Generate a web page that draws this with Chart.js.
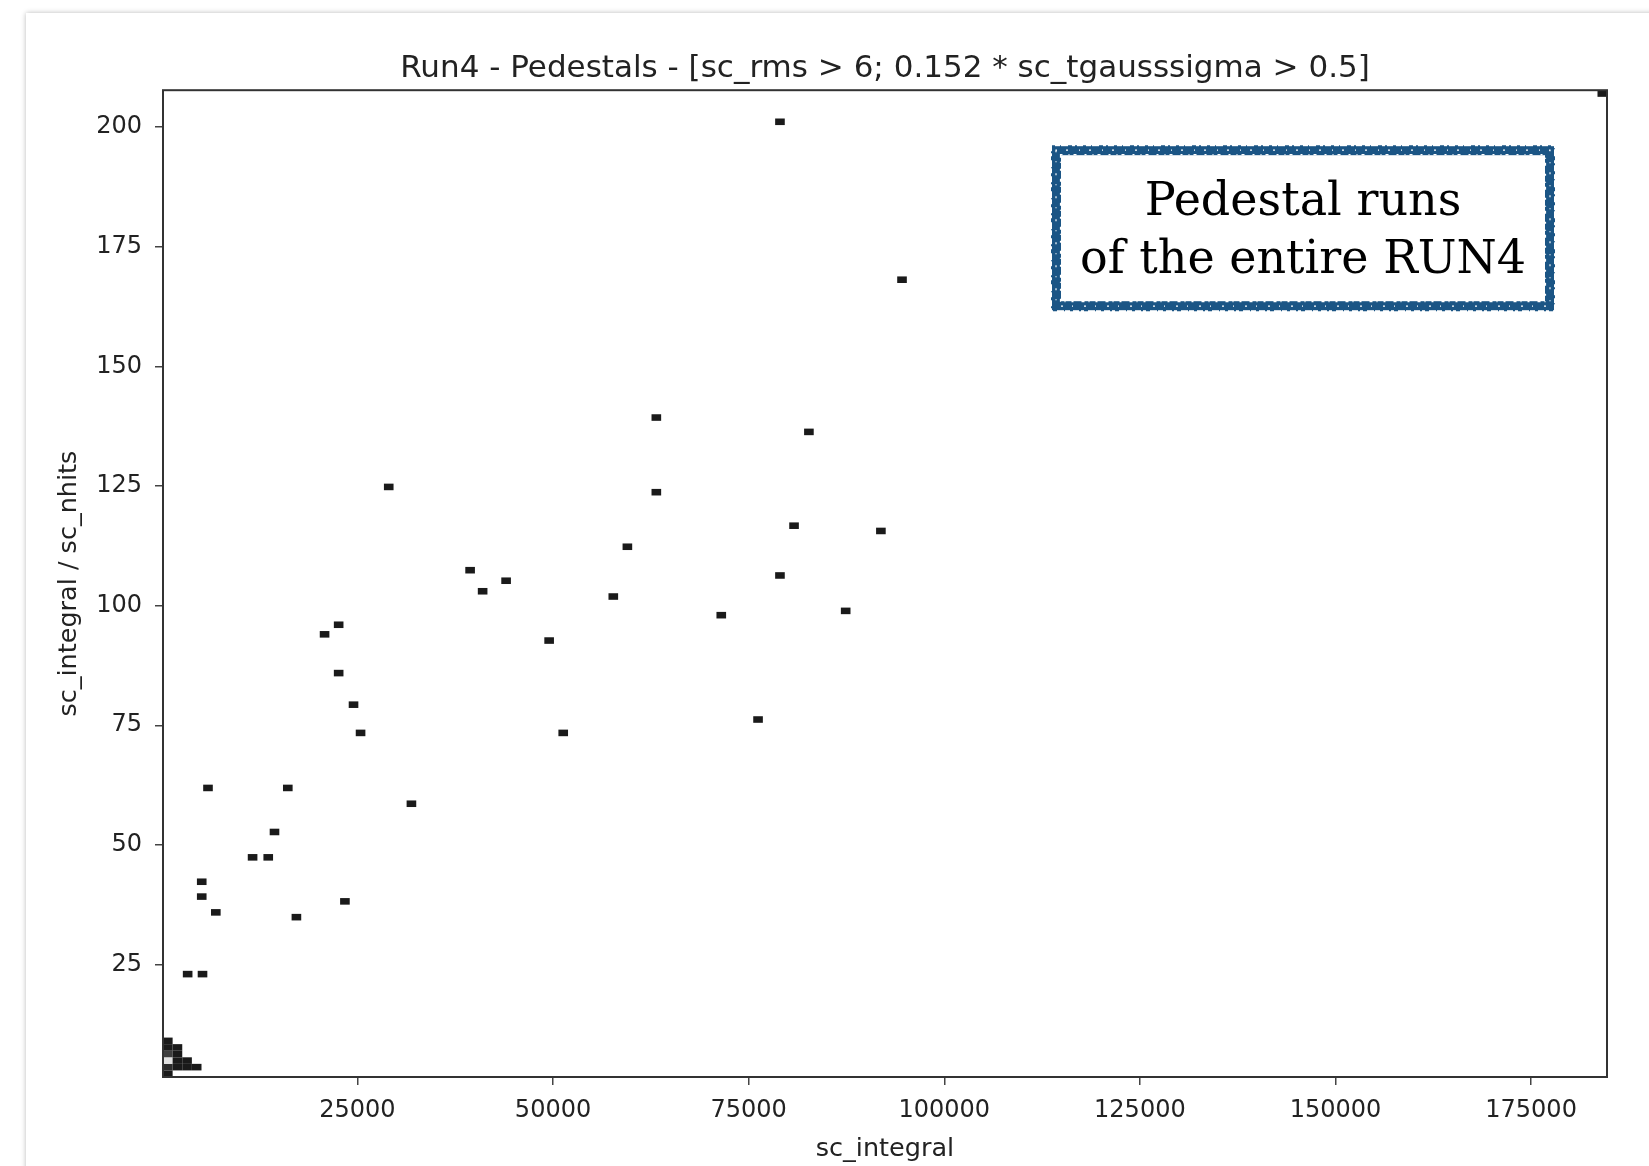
<!DOCTYPE html>
<html>
<head>
<meta charset="utf-8">
<script src="https://cdn.jsdelivr.net/npm/chart.js@4.4.1/dist/chart.umd.min.js"></script>
<style>
  html, body { margin: 0; padding: 0; background: #fff; overflow: hidden; }
  #card { position: absolute; left: 26px; top: 13px; width: 1700px; height: 1250px; background: #fff; box-shadow: 0 0 5px rgba(0,0,0,0.28); }
  #wrap { position: absolute; left: 0; top: 0; width: 1649px; height: 1166px; }
</style>
</head>
<body>
<div id="card"></div>
<div id="wrap"><canvas id="hist"></canvas></div>
<script>
// non-empty hist2d bins (bin centres)
const cellX = [79000, 94600, 63200, 82700, 29000, 63200, 59500, 80800, 91900, 39400,
               44000, 41000, 79000, 57700, 71500, 87400, 49500, 20800, 22600, 22600,
               24500, 25400, 51300, 76200, 5900, 16100, 31900, 14400, 11600, 13600,
               5100, 5100, 6900, 17200, 23400, 3300, 5200, 184100,
               765, 765, 765, 765, 765, 765, 1995, 1995, 1995, 1995, 3225, 3225, 4455];
const cellY = [201.1, 168.1, 139.3, 136.3, 124.8, 123.7, 112.3, 116.7, 115.6, 107.4,
               105.2, 103.0, 106.3, 101.9, 98.0, 98.9, 92.7, 94.0, 96.0, 85.9,
               79.3, 73.4, 73.4, 76.2, 61.9, 61.9, 58.6, 52.7, 47.4, 47.4,
               42.3, 39.2, 35.9, 34.9, 38.2, 23.0, 23.0, 207.0,
               2.19, 3.56, 4.93, 6.31, 7.68, 9.05, 3.56, 4.93, 6.31, 7.68, 3.56, 4.93, 3.56];
const cellCount = [1, 1, 1, 1, 1, 1, 1, 1, 1, 1,
                   1, 1, 1, 1, 1, 1, 1, 1, 1, 1,
                   1, 1, 1, 1, 1, 1, 1, 1, 1, 1,
                   1, 1, 1, 1, 1, 1, 1, 1,
                   1, 2, 12, 3, 1, 1, 1, 1, 1, 1, 1, 1, 1];
const binW = 1230;
const binH = 1.373;
const xRange = [150, 184700];
const yRange = [1.5, 207.7];
const xTickValues = [25000, 50000, 75000, 100000, 125000, 150000, 175000];
const yTickValues = [25, 50, 75, 100, 125, 150, 175, 200];

const titleText = 'Run4 - Pedestals - [sc_rms > 6; 0.152 * sc_tgausssigma > 0.5]';
const xLabel = 'sc_integral';
const yLabel = 'sc_integral / sc_nhits';
const noteLines = ['Pedestal runs', 'of the entire RUN4'];

const maxCount = Math.max(...cellCount);
function shade(c) {
  const g = Math.round(26 + (c - 1) / (maxCount - 1) * 200);
  return 'rgb(' + g + ',' + g + ',' + g + ')';
}

const points = cellX.map((x, i) => ({ x: x, y: cellY[i], c: cellCount[i] }));

// draws each bin as a rectangle through the chart's scales
const histCells = {
  id: 'histCells',
  beforeDatasetsDraw(chart) {
    const { ctx, chartArea, scales: { x, y } } = chart;
    ctx.save();
    ctx.beginPath();
    ctx.rect(chartArea.left, chartArea.top, chartArea.width, chartArea.height);
    ctx.clip();
    chart.data.datasets[0].data.forEach(p => {
      const x0 = x.getPixelForValue(p.x - binW / 2);
      const x1 = x.getPixelForValue(p.x + binW / 2);
      const y0 = y.getPixelForValue(p.y + binH / 2);
      const y1 = y.getPixelForValue(p.y - binH / 2);
      ctx.fillStyle = shade(p.c);
      ctx.fillRect(x0, y0, x1 - x0, y1 - y0);
    });
    ctx.restore();
  }
};

const frame = {
  id: 'frame',
  afterDraw(chart) {
    const { ctx, chartArea: a } = chart;
    ctx.save();
    ctx.strokeStyle = '#333';
    ctx.lineWidth = 2;
    ctx.strokeRect(a.left, a.top, a.width, a.height);
    ctx.restore();
  }
};

// rough blue box with the note
const note = {
  id: 'note',
  afterDraw(chart) {
    const { ctx, chartArea: a } = chart;
    const left = a.right - 555, top = a.top + 56, w = 502, h = 164;
    ctx.save();
    ctx.strokeStyle = '#1b5585';
    ctx.lineWidth = 9;
    ctx.strokeRect(left + 4.5, top + 4.5, w - 9, h - 9);
    ctx.lineWidth = 2;
    ctx.setLineDash([3, 5, 1, 7, 4, 3, 2, 6]);
    ctx.strokeRect(left, top, w, h);
    ctx.strokeStyle = '#fff';
    ctx.setLineDash([2, 6, 1, 4, 3, 8]);
    ctx.lineWidth = 1.2;
    ctx.strokeRect(left + 8.5, top + 8.5, w - 17, h - 17);
    ctx.setLineDash([1, 9, 2, 11]);
    ctx.strokeRect(left + 4, top + 4, w - 8, h - 8);
    ctx.setLineDash([]);
    ctx.fillStyle = '#000';
    ctx.font = '46px "DejaVu Serif"';
    ctx.textAlign = 'center';
    ctx.textBaseline = 'middle';
    ctx.fillText(noteLines[0], left + w / 2, top + 57);
    ctx.fillText(noteLines[1], left + w / 2, top + 115);
    ctx.restore();
  }
};

const tickFont = { family: 'DejaVu Sans', size: 24 };
const labelFont = { family: 'DejaVu Sans', size: 25.5 };

new Chart(document.getElementById('hist'), {
  type: 'scatter',
  data: {
    datasets: [{
      data: points,
      pointRadius: 0,
      pointHoverRadius: 0
    }]
  },
  options: {
    responsive: true,
    maintainAspectRatio: false,
    animation: false,
    events: [],
    layout: { padding: { left: 0, right: 42, top: 0, bottom: 0 } },
    plugins: {
      legend: { display: false },
      tooltip: { enabled: false },
      title: {
        display: true,
        text: titleText,
        fullSize: false,
        color: '#222',
        font: { family: 'DejaVu Sans', size: 31, weight: 'normal' },
        padding: { top: 50, bottom: 3 }
      }
    },
    scales: {
      x: {
        type: 'linear',
        min: xRange[0],
        max: xRange[1],
        afterBuildTicks(scale) { scale.ticks = xTickValues.map(v => ({ value: v })); },
        afterFit(scale) { scale.height = 89; },
        border: { display: false },
        grid: { drawOnChartArea: false, drawTicks: true, tickLength: 8, color: '#444', lineWidth: 1.5 },
        ticks: { color: '#222', font: tickFont, padding: 11, maxRotation: 0, autoSkip: false, callback: v => String(v) },
        title: { display: true, text: xLabel, color: '#222', font: labelFont, padding: { top: 0, bottom: 1 } }
      },
      y: {
        type: 'linear',
        min: yRange[0],
        max: yRange[1],
        afterBuildTicks(scale) { scale.ticks = yTickValues.map(v => ({ value: v })); },
        afterFit(scale) { scale.width = 163; },
        border: { display: false },
        grid: { drawOnChartArea: false, drawTicks: true, tickLength: 8, color: '#444', lineWidth: 1.5 },
        ticks: { color: '#222', font: tickFont, padding: 13, autoSkip: false, callback: v => String(v) },
        title: { display: true, text: yLabel, color: '#222', font: labelFont, padding: { top: 54, bottom: 0 } }
      }
    }
  },
  plugins: [histCells, frame, note]
});
</script>
</body>
</html>
